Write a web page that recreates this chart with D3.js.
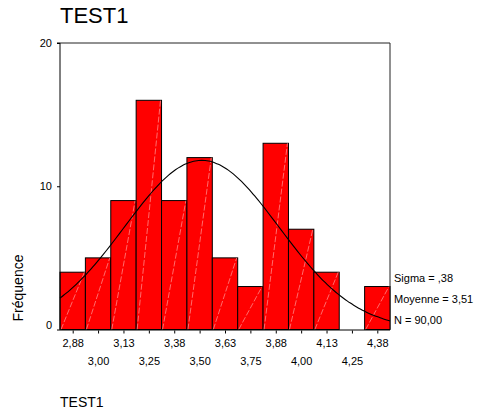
<!DOCTYPE html>
<html>
<head>
<meta charset="utf-8">
<script src="https://cdnjs.cloudflare.com/ajax/libs/d3/7.8.5/d3.min.js"></script>
<style>
  body { margin: 0; background: #fff; }
  svg { font-family: Arial, "Liberation Sans", sans-serif; }
</style>
</head>
<body>
<svg id="chart" width="482" height="411"></svg>
<script>
// bin centres and counts
const binCenters = [2.875, 3.0, 3.125, 3.25, 3.375, 3.5, 3.625, 3.75, 3.875, 4.0, 4.125, 4.25, 4.375];
const counts = [4, 5, 9, 16, 9, 12, 5, 3, 13, 7, 4, 0, 3];
const tickLabels = ["2,88", "3,00", "3,13", "3,25", "3,38", "3,50", "3,63", "3,75", "3,88", "4,00", "4,13", "4,25", "4,38"];
const yTicks = [0, 10, 20];
const stats = ["Sigma = ,38", "Moyenne = 3,51", "N = 90,00"];
const sigma = 0.38, mean = 3.51, n = 90;
const binWidth = 0.125;

const svg = d3.select("#chart");
const plotLeft = 60, plotRight = 390, plotTop = 43, plotBottom = 329.5;

const x = d3.scaleLinear()
  .domain([binCenters[0] - binWidth / 2, binCenters[binCenters.length - 1] + binWidth / 2])
  .range([plotLeft, plotRight]);
const y = d3.scaleLinear().domain([0, 20]).range([plotBottom, plotTop]);

// title
svg.append("text").attr("x", 60).attr("y", 23)
  .attr("font-size", 22).text("TEST1");

// frame (top and right)
svg.append("line").attr("x1", plotLeft).attr("x2", plotRight).attr("y1", plotTop).attr("y2", plotTop)
  .attr("stroke", "#222");
svg.append("line").attr("x1", plotRight).attr("x2", plotRight).attr("y1", plotTop).attr("y2", plotBottom)
  .attr("stroke", "#222");

// bars
const bars = svg.append("g");
binCenters.forEach((c, i) => {
  if (counts[i] === 0) return;
  const x0 = x(c - binWidth / 2), x1 = x(c + binWidth / 2);
  bars.append("rect")
    .attr("x", x0).attr("y", y(counts[i]))
    .attr("width", x1 - x0).attr("height", y(0) - y(counts[i]))
    .attr("fill", "#ff0000").attr("stroke", "#000").attr("stroke-width", 1);
  // faint diagonal streak
  bars.append("line")
    .attr("x1", x0 + 1).attr("y1", y(0))
    .attr("x2", x1 - 1).attr("y2", y(counts[i]))
    .attr("stroke", "#ff9a9a").attr("stroke-width", 0.7)
    .attr("stroke-dasharray", "6,2");
});

// normal curve
const curve = d3.range(0, 101).map(k => {
  const v = x.domain()[0] + (x.domain()[1] - x.domain()[0]) * k / 100;
  const pdf = Math.exp(-0.5 * Math.pow((v - mean) / sigma, 2)) / (sigma * Math.sqrt(2 * Math.PI));
  return [v, n * binWidth * pdf];
});
svg.append("path")
  .datum(curve)
  .attr("fill", "none").attr("stroke", "#000").attr("stroke-width", 1.1)
  .attr("d", d3.line().x(d => x(d[0])).y(d => y(d[1])).curve(d3.curveBasis));

// y axis
const yAxis = svg.append("g").attr("transform", `translate(${plotLeft},0)`)
  .call(d3.axisLeft(y).tickValues(yTicks).tickSize(3).tickPadding(5));
yAxis.select(".domain").attr("d", `M-3,${plotTop}H0V${plotBottom}`);
yAxis.selectAll("text").attr("font-size", 11).attr("font-family", "Arial, 'Liberation Sans', sans-serif")
  .attr("y", d => d === 0 ? -5 : 0);

// x axis with staggered labels
const xAxis = svg.append("g").attr("transform", `translate(0,${plotBottom})`)
  .call(d3.axisBottom(x).tickValues(binCenters).tickSize(3).tickFormat((d, i) => tickLabels[i]));
xAxis.select(".domain").attr("d", `M${plotLeft},0.5H${plotRight}`);
xAxis.selectAll(".tick line").attr("y1", 1).attr("y2", 4);
xAxis.selectAll("text")
  .attr("font-size", 11).attr("font-family", "Arial, 'Liberation Sans', sans-serif")
  .attr("y", (d, i) => i % 2 === 0 ? 10 : 28).attr("dy", "0.71em");

// y label
svg.append("text")
  .attr("transform", "translate(23,288) rotate(-90)")
  .attr("text-anchor", "middle").attr("font-size", 14).text("Fréquence");

// x label
svg.append("text").attr("x", 60).attr("y", 407).attr("font-size", 14).text("TEST1");

// stats legend
svg.append("g").selectAll("text").data(stats).join("text")
  .attr("x", 394).attr("y", (d, i) => 282 + i * 21)
  .attr("font-size", 11).text(d => d);
</script>
</body>
</html>
